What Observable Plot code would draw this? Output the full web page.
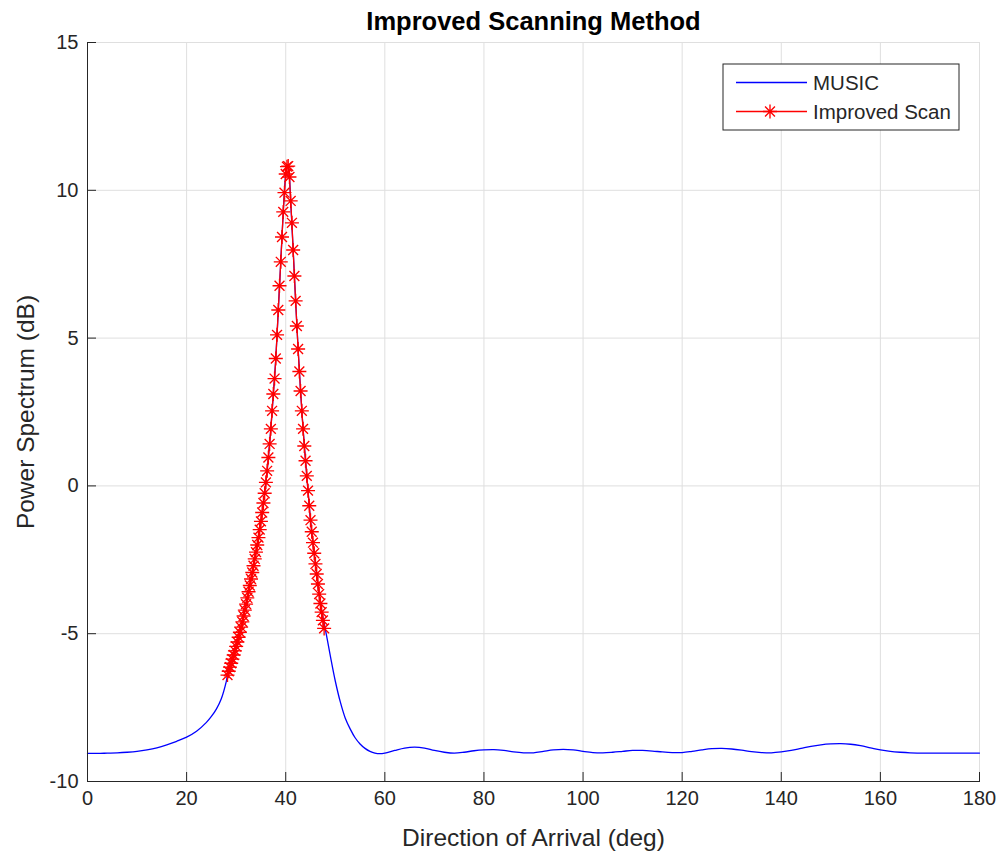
<!DOCTYPE html>
<html>
<head>
<meta charset="utf-8">
<script src="https://cdn.jsdelivr.net/npm/d3@7"></script>
<script src="https://cdn.jsdelivr.net/npm/@observablehq/plot@0.6"></script>
<style>
  html, body { margin: 0; padding: 0; background: #ffffff; }
  #chart { width: 1001px; height: 856px; }
</style>
</head>
<body>
<div id="chart"></div>
<script>
// ---- Data ----
const titleText = "Improved Scanning Method";
const xLabel = "Direction of Arrival (deg)";
const yLabel = "Power Spectrum (dB)";
const seriesNames = ["MUSIC", "Improved Scan"];
const xTicks = [0, 20, 40, 60, 80, 100, 120, 140, 160, 180];
const yTicks = [-10, -5, 0, 5, 10, 15];

// MUSIC spectrum (deg, dB)
const musicDeg = [0, 2, 4, 6, 8, 10, 12, 14, 16, 18, 20, 22, 24, 25, 26, 27, 28, 28.25,
  29, 30, 31, 32, 33, 34, 35, 36, 36.5, 37, 37.5, 38, 38.5, 39, 39.5, 40, 40.25, 40.4, 40.5, 40.75,
  41, 41.5, 42, 42.5, 43, 43.5, 44, 44.5, 45, 46, 47, 48, 49, 50, 51, 52, 53, 54, 55, 56, 57, 58, 59,
  60, 62, 64, 66, 68, 70, 72, 74, 76, 78, 80, 82, 84, 86, 88, 90, 92, 94, 96, 98, 100, 102, 104,
  106, 108, 110, 112, 114, 116, 118, 120, 122, 124, 126, 128, 130, 132, 134, 136, 138, 140, 142,
  144, 146, 148, 150, 152, 154, 156, 158, 160, 162, 164, 166, 170, 175, 180];
const musicDb = [-9.05, -9.05, -9.04, -9.03, -9.01, -8.98, -8.93, -8.86, -8.76, -8.64, -8.5, -8.3, -8.0, -7.8, -7.55, -7.2, -6.62, -6.4,
  -6.0, -5.43, -4.78, -4.0, -3.15, -2.24, -1.2, 0.12, 0.96, 1.93, 3.11, 4.31, 5.95, 7.58, 9.27, 10.55, 10.8, 10.86, 10.82, 10.45,
  9.64, 7.98, 6.26, 4.63, 3.21, 1.93, 0.85, -0.16, -1.16, -2.64, -3.98, -4.85, -5.75, -6.6, -7.3, -7.85, -8.22, -8.52, -8.73, -8.88, -8.98, -9.04, -9.06,
  -9.04, -8.95, -8.87, -8.84, -8.87, -8.95, -9.01, -9.04, -9.01, -8.96, -8.93, -8.92, -8.95, -9.0, -9.03, -9.03, -8.98, -8.93, -8.91, -8.93, -8.98, -9.02, -9.03,
  -9.01, -8.98, -8.95, -8.95, -8.97, -9.0, -9.02, -9.02, -8.98, -8.93, -8.89, -8.88, -8.9, -8.94, -8.99, -9.02, -9.03, -9.0, -8.95,
  -8.88, -8.81, -8.76, -8.73, -8.72, -8.74, -8.79, -8.86, -8.93, -8.98, -9.01, -9.03, -9.04, -9.04, -9.04];

// Improved scan samples (deg, dB)
const scanDeg = [28.25, 28.5, 28.75, 29, 29.25, 29.5, 29.75, 30, 30.25, 30.5, 30.75, 31, 31.25, 31.5, 31.75,
  32, 32.25, 32.5, 32.75, 33, 33.25, 33.5, 33.75, 34, 34.25, 34.5, 34.75, 35, 35.25, 35.5, 35.75, 36,
  36.25, 36.5, 36.75, 37, 37.25, 37.5, 37.75, 38, 38.25, 38.5, 38.75, 39, 39.25, 39.5, 39.75, 40, 40.25,
  40.5, 40.75, 41, 41.25, 41.5, 41.75, 42, 42.25, 42.5, 42.75, 43, 43.25, 43.5, 43.75, 44, 44.25, 44.5,
  44.75, 45, 45.25, 45.5, 45.75, 46, 46.25, 46.5, 46.75, 47, 47.25, 47.5, 47.75];
const scanDb = [-6.4, -6.27, -6.13, -6.0, -5.86, -5.72, -5.58, -5.43, -5.28, -5.12, -4.95, -4.78, -4.6, -4.4, -4.2,
  -4.0, -3.79, -3.58, -3.37, -3.15, -2.93, -2.7, -2.47, -2.24, -2.0, -1.75, -1.48, -1.2, -0.9, -0.58, -0.25, 0.12,
  0.51, 0.96, 1.42, 1.93, 2.54, 3.11, 3.63, 4.31, 5.11, 5.95, 6.77, 7.58, 8.42, 9.27, 9.92, 10.55, 10.8,
  10.82, 10.45, 9.64, 8.9, 7.98, 7.1, 6.26, 5.41, 4.63, 3.87, 3.21, 2.54, 1.93, 1.35, 0.85, 0.34, -0.16,
  -0.67, -1.16, -1.55, -1.92, -2.28, -2.64, -2.98, -3.32, -3.66, -3.98, -4.27, -4.55, -4.82];

// ---- Build tables ----
const music = musicDeg.map((d, i) => ({deg: d, db: musicDb[i]}));
const scan = scanDeg.map((d, i) => ({deg: d, db: scanDb[i]}));

// MATLAB-style asterisk (+ and x combined)
const asterisk = {
  draw(context, size) {
    const r = Math.sqrt(size / Math.PI);
    const d = r * Math.SQRT1_2;
    context.moveTo(-r, 0); context.lineTo(r, 0);
    context.moveTo(0, -r); context.lineTo(0, r);
    context.moveTo(-d, -d); context.lineTo(d, d);
    context.moveTo(-d, d); context.lineTo(d, -d);
  }
};

const W = 1001, H = 856;
const mL = 87, mR = 22, mT = 42, mB = 75;
const axisColor = "#262626";
const gridColor = "#dfdfdf";
const BLUE = "#0000ff", RED = "#ff0000";
const FONT = "'Liberation Sans', Arial, Helvetica, sans-serif";
const fmt = d => String(d);
const MR = 7;

const chart = Plot.plot({
  width: W, height: H,
  marginLeft: mL, marginRight: mR, marginTop: mT, marginBottom: mB,
  style: {fontFamily: FONT, fontSize: "20px", color: axisColor, background: "#ffffff", overflow: "visible"},
  x: {domain: [0, 180]},
  y: {domain: [-10, 15]},
  marks: [
    Plot.gridX(xTicks, {stroke: gridColor, strokeOpacity: 1, strokeWidth: 1}),
    Plot.gridY(yTicks, {stroke: gridColor, strokeOpacity: 1, strokeWidth: 1}),
    Plot.line(music, {x: "deg", y: "db", stroke: BLUE, strokeWidth: 1.3, curve: "catmull-rom"}),
    Plot.line(scan, {x: "deg", y: "db", stroke: RED, strokeWidth: 1.3}),
    Plot.dot(scan, {x: "deg", y: "db", symbol: asterisk, r: MR, stroke: RED, strokeWidth: 1.35, fill: "none"}),
    Plot.tickX(xTicks, {x: d => d, insetTop: (H - mT - mB) - 9, stroke: axisColor, strokeWidth: 1}),
    Plot.tickY(yTicks, {y: d => d, insetRight: (W - mL - mR) - 9, stroke: axisColor, strokeWidth: 1}),
    Plot.frame({anchor: "left", stroke: axisColor, strokeWidth: 1}),
    Plot.frame({anchor: "bottom", stroke: axisColor, strokeWidth: 1}),
    Plot.axisX(xTicks, {tickSize: 0, tickPadding: 9, label: null, fontSize: 20, fill: axisColor, tickFormat: fmt}),
    Plot.axisY(yTicks, {tickSize: 0, tickPadding: 9, label: null, fontSize: 20, fill: axisColor, tickFormat: fmt}),
    Plot.text([xLabel], {frameAnchor: "bottom", dy: 57, lineAnchor: "middle", textAnchor: "middle", fontSize: 24.5, fill: axisColor}),
    Plot.text([yLabel], {frameAnchor: "left", dx: -61, lineAnchor: "middle", textAnchor: "middle", rotate: -90, fontSize: 24.5, fill: axisColor}),
    Plot.text([titleText], {frameAnchor: "top", dy: -21, lineAnchor: "middle", textAnchor: "middle", fontSize: 25.5, fontWeight: "bold", fill: "#000000"})
  ]
});

document.getElementById("chart").appendChild(chart);

// ---- Legend (drawn into the same SVG) ----
const svg = d3.select(chart);
const lg = svg.append("g").attr("font-family", FONT).attr("font-size", 20.5).attr("text-anchor", "start");
const bx = 723, by = 64, bw = 236, bh = 66;
lg.append("rect").attr("x", bx).attr("y", by).attr("width", bw).attr("height", bh)
  .attr("fill", "#ffffff").attr("stroke", axisColor).attr("stroke-width", 1);
const rows = [
  {name: seriesNames[0], color: BLUE, marker: false, y: by + 18.5},
  {name: seriesNames[1], color: RED, marker: true, y: by + 47.5}
];
rows.forEach(r => {
  lg.append("line").attr("x1", bx + 13).attr("x2", bx + 84).attr("y1", r.y).attr("y2", r.y)
    .attr("stroke", r.color).attr("stroke-width", 1.3);
  if (r.marker) {
    const p = d3.path();
    asterisk.draw(p, Math.PI * MR * MR);
    lg.append("path").attr("d", p.toString()).attr("transform", `translate(${bx + 47},${r.y})`)
      .attr("stroke", r.color).attr("stroke-width", 1.35).attr("fill", "none");
  }
  lg.append("text").attr("x", bx + 90).attr("y", r.y).attr("dy", "0.35em").attr("text-anchor", "start")
    .attr("fill", axisColor).text(r.name);
});
</script>
</body>
</html>
